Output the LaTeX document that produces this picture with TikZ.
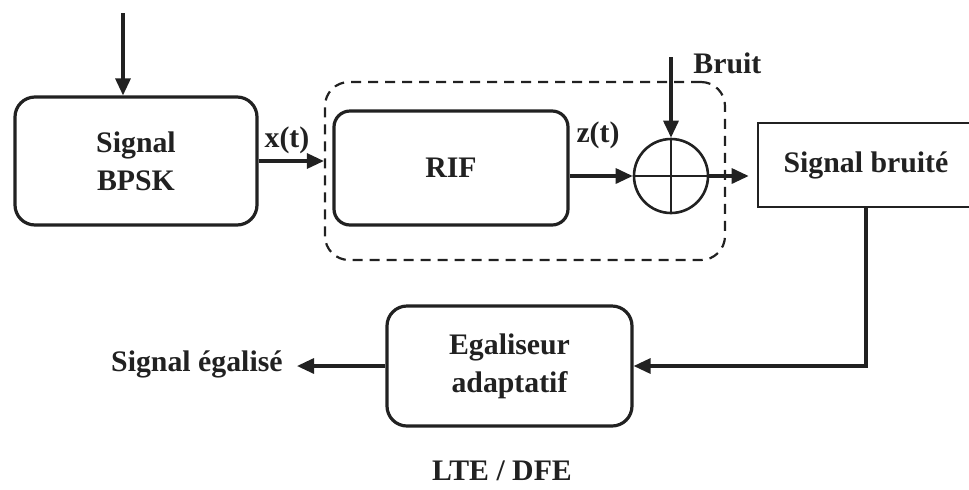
\documentclass[tikz,border=0pt]{standalone}
\usepackage{fontspec}
\setmainfont{Liberation Serif}
\usetikzlibrary{arrows.meta}
\definecolor{ink}{gray}{0.13}
\begin{document}
\begin{tikzpicture}[x=0.5pt,y=-0.5pt,
  txt/.style={font=\bfseries\fontsize{14.9}{19}\selectfont, text=ink, align=center},
  block/.style={txt, draw=ink, line width=1.6pt, rounded corners=10pt, inner sep=0pt},
  lbl/.style={txt, inner sep=0pt},
  link/.style={draw=ink, line width=1.6pt, -{Triangle[length=8.5pt,width=7.5pt]}},
  group/.style={draw=ink, line width=1.1pt, dash pattern=on 5pt off 3.5pt, rounded corners=12pt, inner sep=0pt},
]
\useasboundingbox (0,0) rectangle (969,489);
\clip (0,0) rectangle (969,489);

% processing blocks
\node[block, minimum width=121pt, minimum height=64pt] (bpsk) at (136,161) {Signal\\BPSK};
\node[group, minimum width=200pt, minimum height=89pt] (grp) at (525,171) {};
\node[block, rounded corners=8pt, minimum width=117pt, minimum height=57pt] (rif) at (451,168) {RIF};
\node[draw=ink, line width=1.3pt, circle, minimum size=37pt, inner sep=0pt] (sum) at (671,176) {};
\draw[ink, line width=1.3pt] (sum.north) -- (sum.south) (sum.west) -- (sum.east);
\node[block, rounded corners=0pt, line width=1.3pt, minimum width=108pt, minimum height=42pt] (noisy) at (866,165) {Signal bruité};
\node[block, minimum width=122.5pt, minimum height=60pt] (eq) at (509.5,366) {Egaliseur\\adaptatif};

% labels
\node[lbl] (xt) at (287,140) {x(t)};
\node[lbl] (zt) at (598,135) {z(t)};
\node[lbl, anchor=west] (bruit) at (693,63) {Bruit};
\node[lbl, anchor=east] (out) at (283,364) {Signal égalisé};
\node[lbl] (mode) at (502,471) {LTE / DFE};

% signal flow
\coordinate (src) at (123,13);
\coordinate (noise) at (671,57);
\draw[link] (src) -- (src |- bpsk.north);
\draw[link] (bpsk.east) -- (bpsk.east -| grp.west);
\draw[link] (rif.east |- sum.west) -- (sum.west);
\draw[link] (noise) -- (sum.north);
\draw[link, shorten >=4pt] (sum.east) -- (sum.east -| noisy.west);
\draw[link] (noisy.south) |- (eq.east);
\draw[link, shorten >=7pt] (eq.west) -- (eq.west -| out.east);
\end{tikzpicture}
\end{document}
